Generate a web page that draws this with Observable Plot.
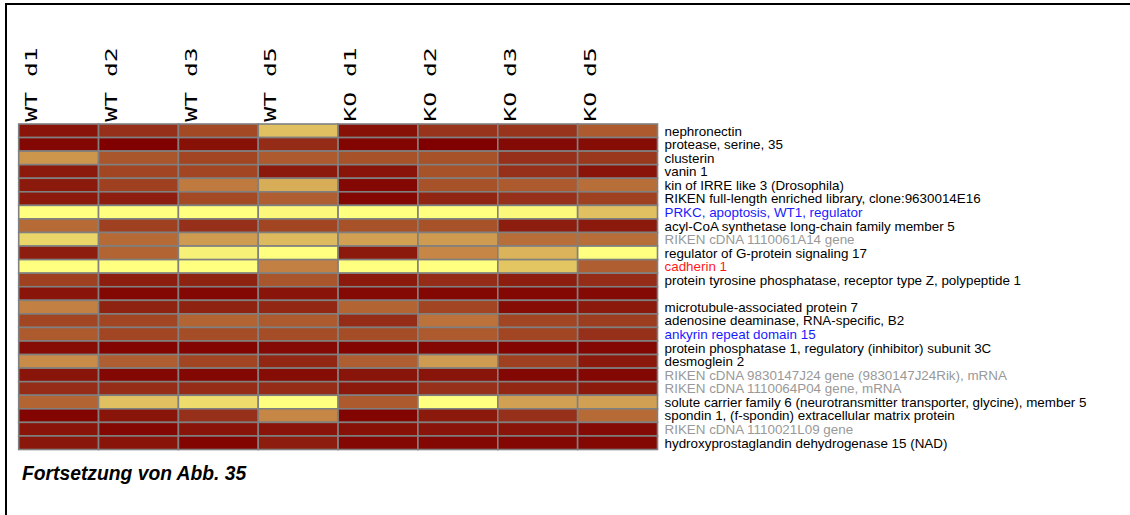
<!DOCTYPE html>
<html>
<head>
<meta charset="utf-8">
<script src="https://cdn.jsdelivr.net/npm/d3@7"></script>
<script src="https://cdn.jsdelivr.net/npm/@observablehq/plot@0.6"></script>
<style>
  html, body { margin: 0; padding: 0; background: #fff; overflow: hidden; }
  #frame { position: absolute; left: 5px; top: 3px; width: 1123px; height: 510px;
           border-top: 2px solid #000; border-left: 2px solid #000; }
  #chart { position: absolute; left: 0; top: 0; }
  #caption { position: absolute; left: 15px; top: 460px; font-family: "Liberation Sans", Arial, sans-serif;
             font-size: 19.3px; line-height: 18.5px; font-weight: bold; font-style: italic; color: #000;
             white-space: nowrap; }
</style>
</head>
<body>
<div id="frame">
  <div id="chart"></div>
  <div id="caption">Fortsetzung von Abb. 35</div>
</div>
<script>
// ---- data ----
const columns = ["WT d1", "WT d2", "WT d3", "WT d5", "KO d1", "KO d2", "KO d3", "KO d5"];

const genes = [
  "nephronectin",
  "protease, serine, 35",
  "clusterin",
  "vanin 1",
  "kin of IRRE like 3 (Drosophila)",
  "RIKEN full-length enriched library, clone:9630014E16",
  "PRKC, apoptosis, WT1, regulator",
  "acyl-CoA synthetase long-chain family member 5",
  "RIKEN cDNA 1110061A14 gene",
  "regulator of G-protein signaling 17",
  "cadherin 1",
  "protein tyrosine phosphatase, receptor type Z, polypeptide 1",
  "",
  "microtubule-associated protein 7",
  "adenosine deaminase, RNA-specific, B2",
  "ankyrin repeat domain 15",
  "protein phosphatase 1, regulatory (inhibitor) subunit 3C",
  "desmoglein 2",
  "RIKEN cDNA 9830147J24 gene (9830147J24Rik), mRNA",
  "RIKEN cDNA 1110064P04 gene, mRNA",
  "solute carrier family 6 (neurotransmitter transporter, glycine), member 5",
  "spondin 1, (f-spondin) extracellular matrix protein",
  "RIKEN cDNA 1110021L09 gene",
  "hydroxyprostaglandin dehydrogenase 15 (NAD)"
];

// label groups (highlighting in the original figure)
const blueGenes = ["PRKC, apoptosis, WT1, regulator", "ankyrin repeat domain 15"];
const redGenes = ["cadherin 1"];
const grayGenes = [
  "RIKEN cDNA 1110061A14 gene",
  "RIKEN cDNA 9830147J24 gene (9830147J24Rik), mRNA",
  "RIKEN cDNA 1110064P04 gene, mRNA",
  "RIKEN cDNA 1110021L09 gene"
];

// relative expression (0 = dark red, 1 = bright yellow), one array per column
const wtD1 = [0.08, 0.03, 0.66, 0.10, 0.10, 0.10, 1.00, 0.48, 0.88, 0.12, 1.00, 0.28, 0.08, 0.58, 0.30, 0.40, 0.05, 0.62, 0.08, 0.18, 0.45, 0.02, 0.08, 0.09];
const wtD2 = [0.20, 0.00, 0.38, 0.30, 0.28, 0.12, 1.00, 0.28, 0.48, 0.45, 1.00, 0.12, 0.03, 0.14, 0.30, 0.30, 0.02, 0.42, 0.03, 0.18, 0.80, 0.08, 0.03, 0.08];
const wtD3 = [0.32, 0.06, 0.30, 0.30, 0.55, 0.32, 1.00, 0.20, 0.68, 0.96, 1.00, 0.14, 0.03, 0.14, 0.45, 0.34, 0.02, 0.30, 0.03, 0.18, 0.90, 0.20, 0.08, 0.02];
const wtD5 = [0.80, 0.18, 0.40, 0.10, 0.74, 0.42, 0.98, 0.30, 0.78, 1.00, 0.58, 0.38, 0.08, 0.16, 0.40, 0.34, 0.04, 0.16, 0.05, 0.18, 1.00, 0.60, 0.08, 0.12];
const koD1 = [0.06, 0.02, 0.36, 0.08, 0.03, 0.03, 1.00, 0.36, 0.70, 0.10, 1.00, 0.10, 0.04, 0.45, 0.18, 0.34, 0.02, 0.42, 0.08, 0.10, 0.40, 0.02, 0.06, 0.03];
const koD2 = [0.22, 0.00, 0.36, 0.36, 0.36, 0.15, 1.00, 0.36, 0.68, 0.60, 1.00, 0.18, 0.03, 0.30, 0.52, 0.40, 0.03, 0.68, 0.08, 0.20, 1.00, 0.10, 0.08, 0.03];
const koD3 = [0.22, 0.04, 0.20, 0.20, 0.40, 0.20, 0.98, 0.12, 0.50, 0.76, 0.82, 0.12, 0.03, 0.05, 0.30, 0.30, 0.02, 0.28, 0.03, 0.16, 0.70, 0.20, 0.08, 0.03];
const koD5 = [0.40, 0.05, 0.24, 0.08, 0.50, 0.28, 0.80, 0.10, 0.50, 1.00, 0.42, 0.18, 0.04, 0.10, 0.26, 0.20, 0.03, 0.10, 0.03, 0.10, 0.70, 0.48, 0.04, 0.03];

const series = [wtD1, wtD2, wtD3, wtD5, koD1, koD2, koD3, koD5];

// ---- table for Plot ----
const table = [];
columns.forEach((c, j) => {
  genes.forEach((g, i) => table.push({column: c, gene: g, value: series[j][i]}));
});
const blackGenes = genes.filter(g => g !== "" && !blueGenes.includes(g) && !redGenes.includes(g) && !grayGenes.includes(g));

const labelFont = "Liberation Sans, Arial, sans-serif";
const rowLabel = (data, fill) => Plot.text(data, {
  y: d => d, text: d => d, frameAnchor: "right", textAnchor: "start", dx: 6.5,
  fill, fontSize: 13.4, fontFamily: labelFont
});

const chart = Plot.plot({
  width: 1123,
  height: 455,
  marginLeft: 11.7,
  marginRight: 472.5,
  marginTop: 119,
  marginBottom: 10.5,
  style: {background: "white", overflow: "visible"},
  x: {domain: columns, padding: 0, round: false, axis: null},
  y: {domain: genes, padding: 0, round: false, axis: null},
  color: {
    type: "linear",
    domain: [0, 0.1, 0.2, 0.3, 0.4, 0.5, 0.6, 0.7, 0.8, 0.9, 1],
    range: ["#800000", "#8b1a0c", "#96301a", "#a14522", "#ac5a2e", "#b86e38", "#c58646", "#d2a052", "#e0c060", "#eedc6c", "#ffff80"],
    interpolate: "rgb"
  },
  marks: [
    Plot.cell(table, {x: "column", y: "gene", fill: "value", stroke: "#808080", strokeWidth: 1.6}),
    Plot.text(columns, {
      x: d => d, text: d => d, frameAnchor: "top", rotate: -90,
      textAnchor: "start", lineAnchor: "middle", dx: -27.5, dy: -2.8,
      fontFamily: "DejaVu Sans Mono, monospace", fontSize: 16.5, fill: "#000"
    }),
    rowLabel(blackGenes, "#000000"),
    rowLabel(blueGenes, "#1a1aff"),
    rowLabel(redGenes, "#ff1a1a"),
    rowLabel(grayGenes, "#999999")
  ]
});

// widen the monospace column labels along their reading direction
d3.select(chart).selectAll("text")
  .filter(function() { return columns.includes(this.textContent); })
  .each(function() {
    const t = this.getAttribute("transform") || "";
    this.setAttribute("transform", t + " scale(1.5,1)");
  });

document.getElementById("chart").appendChild(chart);
</script>
</body>
</html>
